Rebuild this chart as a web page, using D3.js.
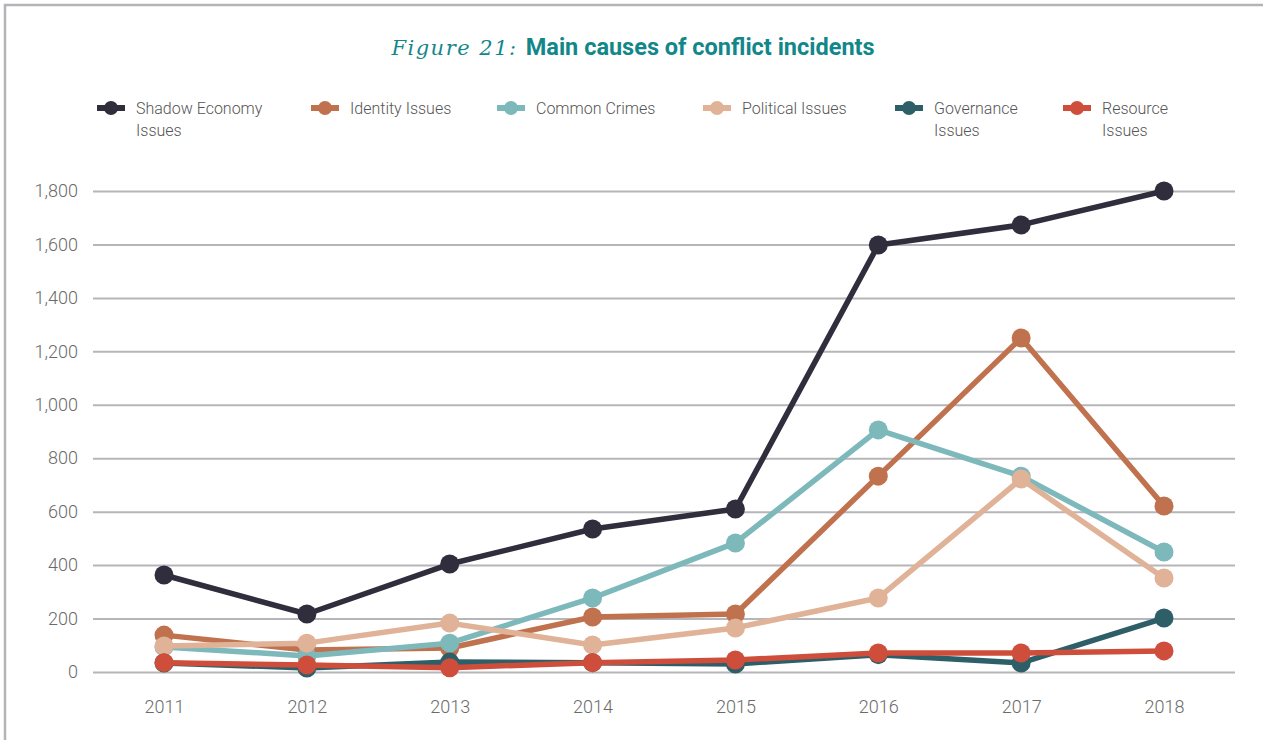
<!DOCTYPE html>
<html>
<head>
<meta charset="utf-8">
<script src="https://d3js.org/d3.v7.min.js"></script>
<style>
  body { margin: 0; background: #fff; }
  text { font-family: Roboto, "Open Sans", sans-serif; }
</style>
</head>
<body>
<div id="chart"></div>
<script>
// data
var years = ["2011", "2012", "2013", "2014", "2015", "2016", "2017", "2018"];
var yTicks = [0, 200, 400, 600, 800, 1000, 1200, 1400, 1600, 1800];

var shadowEconomy = [363, 217, 404, 535, 610, 1598, 1673, 1800];
var identityIssues = [138, 82, 90, 206, 217, 733, 1250, 621];
var commonCrimes = [94, 60, 108, 277, 483, 906, 733, 449];
var politicalIssues = [97, 108, 183, 101, 165, 277, 722, 352];
var governanceIssues = [34, 15, 37, 35, 30, 65, 34, 202];
var resourceIssues = [35, 26, 16, 35, 45, 71, 71, 79];

var seriesNames = [["Shadow Economy", "Issues"], ["Identity Issues"], ["Common Crimes"],
                   ["Political Issues"], ["Governance", "Issues"], ["Resource", "Issues"]];
var seriesValues = [shadowEconomy, identityIssues, commonCrimes, politicalIssues, governanceIssues, resourceIssues];
var colors = ["#302d3d", "#c0714d", "#7db8bb", "#e0b297", "#2e5f68", "#cf4e3b"];

var W = 1263, H = 740;

var svg = d3.select("#chart").append("svg")
  .attr("width", W).attr("height", H);

// outer frame
svg.append("path")
  .attr("d", "M5,740 V5 H1263")
  .attr("fill", "none")
  .attr("stroke", "#b3b3b8")
  .attr("stroke-width", 2.5);

// title
var title = svg.append("text")
  .attr("x", 633).attr("y", 55)
  .attr("text-anchor", "middle")
  .attr("fill", "#12878a");
title.append("tspan")
  .style("font-family", "'DejaVu Serif', serif")
  .style("font-style", "italic")
  .style("font-size", "21px")
  .style("letter-spacing", "1.5px")
  .text("Figure 21: ");
title.append("tspan")
  .style("font-weight", "bold")
  .style("font-size", "23.5px")
  .text("Main causes of conflict incidents");

var x = d3.scalePoint().domain(years).range([164, 1164]);
var y = d3.scaleLinear().domain([0, 1800]).range([672, 191]);

// grid + y labels
var yAxis = svg.append("g")
  .attr("transform", "translate(93,0)")
  .call(d3.axisLeft(y).tickValues(yTicks).tickSize(-1142).tickPadding(15).tickFormat(d3.format(",")));
yAxis.select(".domain").remove();
yAxis.selectAll(".tick line").attr("stroke", "#b6b6ba").attr("stroke-width", 2);
yAxis.selectAll(".tick text")
  .attr("fill", "#6a6a6a")
  .style("font-size", "18px")
  .style("font-weight", 300);

// x labels
var xAxis = svg.append("g")
  .attr("transform", "translate(0,672)")
  .call(d3.axisBottom(x).tickSize(0).tickPadding(28));
xAxis.select(".domain").remove();
xAxis.selectAll(".tick text")
  .attr("fill", "#6a6a6a")
  .style("font-size", "18px")
  .style("font-weight", 300);

var line = d3.line()
  .x(function(d, i) { return x(years[i]); })
  .y(function(d) { return y(d); });

seriesValues.forEach(function(vals, s) {
  var g = svg.append("g");
  g.append("path")
    .datum(vals)
    .attr("d", line)
    .attr("fill", "none")
    .attr("stroke", colors[s])
    .attr("stroke-width", 5.5)
    .attr("stroke-linejoin", "round");
  g.selectAll("circle")
    .data(vals)
    .enter().append("circle")
      .attr("cx", function(d, i) { return x(years[i]); })
      .attr("cy", function(d) { return y(d); })
      .attr("r", 9.5)
      .attr("fill", colors[s]);
});

// legend
var legendX = [97, 311, 497, 703, 895, 1063];
var legend = svg.append("g");
seriesNames.forEach(function(name, s) {
  var lg = legend.append("g").attr("transform", "translate(" + legendX[s] + ",108)");
  lg.append("line")
    .attr("x1", 0).attr("x2", 28).attr("y1", 0).attr("y2", 0)
    .attr("stroke", colors[s]).attr("stroke-width", 6);
  lg.append("circle").attr("cx", 14).attr("cy", 0).attr("r", 7).attr("fill", colors[s]);
  var t = lg.append("text")
    .attr("x", 39).attr("y", 6)
    .attr("fill", "#555")
    .style("font-size", "16px")
    .style("font-weight", 300);
  name.forEach(function(part, k) {
    t.append("tspan").attr("x", 39).attr("dy", k === 0 ? 0 : 22).text(part);
  });
});
</script>
</body>
</html>
